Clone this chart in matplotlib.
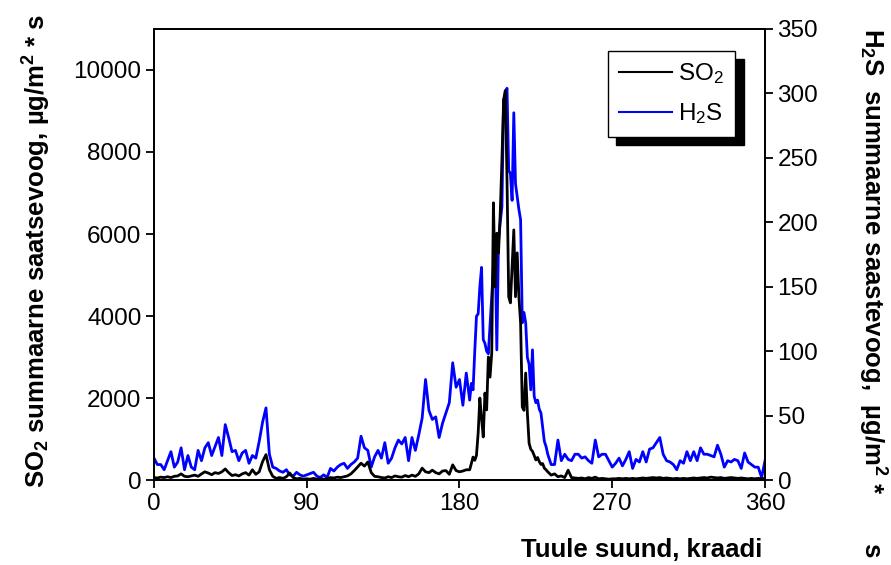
import numpy as np
import matplotlib
matplotlib.use("Agg")
import matplotlib.pyplot as plt
from matplotlib.lines import Line2D

plt.rcParams['font.family'] = ['Liberation Sans', 'DejaVu Sans']
plt.rcParams['mathtext.default'] = 'regular'

# wind direction (degrees): 2-degree steps outside the peak, 1-degree steps in the peak
angle_a = np.arange(0, 186, 2)
angle_b = np.arange(186, 232, 1)
angle_c = np.arange(232, 361, 2)

# H2S total emission (right axis)
h2s_a = [17, 12, 12, 8, 15, 22, 10, 14, 25, 8,
         19, 10, 8, 23, 15, 25, 29, 19, 26, 33,
         19, 43, 33, 22, 23, 15, 21, 23, 13, 19,
         17, 30, 45, 56, 20, 10, 9, 7, 6, 8,
         4, 3, 6, 4, 3, 4, 5, 6, 3, 2,
         4, 2, 9, 7, 10, 12, 13, 9, 12, 14,
         17, 34, 25, 23, 10, 18, 23, 17, 29, 13,
         17, 25, 31, 28, 33, 15, 33, 23, 35, 48,
         78, 54, 47, 49, 33, 44, 52, 60, 91, 72,
         78, 58, 83]
h2s_b = [62, 75, 70, 100, 127, 129, 150, 165, 109, 106,
         100, 98, 120, 142, 165, 181, 101, 186, 200, 212,
         295, 300, 304, 240, 238, 217, 285, 230, 220, 210,
         202, 122, 130, 122, 95, 90, 70, 101, 65, 60,
         62, 55, 52, 41, 30, 26]
h2s_c = [20, 12, 12, 31, 15, 20, 16, 15, 20, 20,
         17, 18, 15, 13, 31, 18, 20, 20, 15, 10,
         13, 17, 11, 16, 22, 9, 16, 14, 22, 14,
         24, 25, 29, 33, 20, 15, 14, 12, 8, 15,
         13, 22, 15, 22, 15, 25, 20, 20, 19, 18,
         27, 20, 10, 15, 14, 16, 15, 9, 21, 14,
         12, 10, 10, 2, 15]

# SO2 total emission (left axis)
so2_a = [60, 50, 70, 60, 80, 60, 90, 100, 150, 90,
         80, 100, 120, 90, 150, 200, 170, 130, 180, 160,
         200, 270, 180, 110, 130, 100, 150, 180, 120, 250,
         140, 200, 450, 620, 250, 90, 40, 60, 40, 80,
         170, 60, 30, 40, 20, 30, 20, 40, 20, 30,
         20, 30, 60, 50, 70, 60, 80, 100, 150, 230,
         320, 410, 340, 440, 180, 90, 80, 60, 50, 80,
         60, 100, 80, 70, 110, 80, 120, 90, 150, 290,
         200, 180, 240, 180, 150, 220, 230, 140, 370, 230,
         200, 220, 250]
so2_b = [250, 410, 560, 480, 600, 1150, 2000, 1500, 1050, 2120,
         1710, 3000, 2510, 3100, 6760, 4710, 6020, 5540, 6500, 7800,
         9270, 9500, 7320, 4470, 4320, 5200, 6100, 4470, 5540, 4470,
         3830, 1780, 1700, 2610, 1630, 900, 750, 700, 600, 490,
         550, 450, 380, 400, 290, 250]
so2_c = [200, 120, 150, 80, 100, 60, 240, 60, 50, 40,
         50, 30, 60, 40, 70, 30, 40, 30, 20, 30,
         30, 40, 30, 40, 30, 40, 30, 40, 50, 40,
         50, 60, 50, 60, 40, 50, 40, 30, 40, 30,
         40, 30, 40, 50, 40, 50, 60, 50, 70, 60,
         50, 60, 40, 50, 60, 50, 40, 50, 40, 30,
         40, 30, 40, 30, 40]

x_ticks = [0, 90, 180, 270, 360]
so2_ticks = [0, 2000, 4000, 6000, 8000, 10000]
h2s_ticks = [0, 50, 100, 150, 200, 250, 300, 350]

angle = np.concatenate([angle_a, angle_b, angle_c])
h2s = np.concatenate([h2s_a, h2s_b, h2s_c])
so2 = np.concatenate([so2_a, so2_b, so2_c])

fig = plt.figure(figsize=(8.91, 5.65), dpi=100)
ax = fig.add_axes([0.1728, 0.1504, 0.6858, 0.7983])
ax2 = ax.twinx()
ax.set_zorder(ax2.get_zorder() + 1)
ax.patch.set_visible(False)

ax2.plot(angle, h2s, color='#0000ff', lw=2.0)
ax.plot(angle, so2, color='black', lw=2.0)

ax.set_xlim(0, 360)
ax.set_ylim(0, 11000)
ax2.set_ylim(0, 350)
ax.set_xticks(x_ticks)
ax.set_yticks(so2_ticks)
ax2.set_yticks(h2s_ticks)

tfs = 17.5
for a in (ax, ax2):
    for s in a.spines.values():
        s.set_linewidth(1.3)
    a.tick_params(direction='out', length=6, width=1.3, labelsize=tfs, pad=3)
ax.tick_params(axis='x', top=False)

leg_handles = [Line2D([], [], color='black', lw=1.5),
               Line2D([], [], color='#0000ff', lw=1.5)]
leg = ax.legend(leg_handles, ['SO$_2$', 'H$_2$S'], loc='upper left',
                bbox_to_anchor=(0.743, 0.952), fontsize=tfs, frameon=True,
                fancybox=False, handlelength=2.2, handletextpad=0.25,
                borderpad=0.45, labelspacing=0.6, borderaxespad=0,
                shadow={'ox': 6, 'oy': -6, 'color': 'black', 'alpha': 1})
leg.get_frame().set_edgecolor('black')
leg.get_frame().set_linewidth(1.0)

lfs = 18.5
fig.text(37 / 891, 1 - 251 / 565, 'SO$_2$ summaarne saatsevoog, µg/m$^2$ * s',
         rotation=90, ha='center', va='center', fontsize=lfs, fontweight='bold')
fig.text(872 / 891, 1 - 28 / 565,
         'H$_2$S  summaarne saastevoog,  µg/m$^2$ *       s',
         rotation=-90, ha='center', va='top', fontsize=lfs, fontweight='bold')
fig.text(642 / 891, 1 - 550 / 565, 'Tuule suund, kraadi',
         ha='center', va='center', fontsize=lfs, fontweight='bold')

fig.savefig('out.png', dpi=100)
